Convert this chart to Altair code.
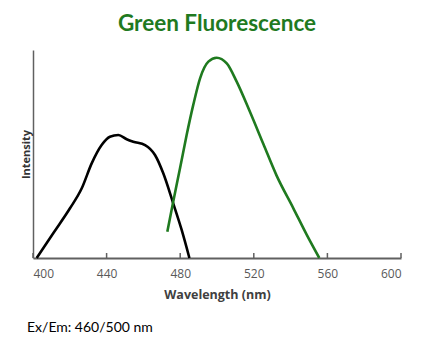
import altair as alt
import pandas as pd

ex_nm = [402, 411, 420.1, 426.5, 431.9, 437.3, 441.8, 446.4, 450.9, 454.5, 460.9, 466.3, 470.8, 476.2, 480.8, 485]
ex_int = [0, 11.9, 23.9, 33.5, 45.5, 54.3, 58.3, 59.1, 57.1, 55.9, 54.3, 49.5, 40.7, 26.3, 13.5, 0]

em_nm = [473, 476.2, 479.9, 483.5, 487.1, 490.8, 495.3, 499.8, 505.3, 510.7, 517.9, 525.2, 532.4, 541.5, 548.8, 555.6]
em_int = [12.6, 27.1, 43.1, 59.1, 73.6, 86.4, 94.4, 96.3, 93.6, 84.8, 70.3, 54.8, 39.6, 23.9, 11.1, 0]

ticks = [400, 440, 480, 520, 560, 600]

df = pd.DataFrame(
    {"nm": ex_nm + em_nm,
     "val": ex_int + em_int,
     "series": ["Excitation"] * len(ex_nm) + ["Emission"] * len(em_nm)}
)
tick_df = pd.DataFrame({"t": ticks})

GREEN = "#1f7a1f"
W, H = 368, 208

xscale = alt.Scale(domain=[400, 600], nice=False)
yscale = alt.Scale(domain=[0, 100], nice=False)

lines = alt.Chart(df).mark_line(strokeWidth=2.6, interpolate="monotone").encode(
    x=alt.X("nm:Q", scale=xscale,
            axis=alt.Axis(values=ticks, title="Wavelength (nm)", grid=False,
                          ticks=False, labelPadding=10, labelFont="Open Sans",
                          labelFontSize=12, labelColor="#595959",
                          domainColor="#606060", domainWidth=2,
                          titleFont="Open Sans", titleFontSize=12.5,
                          titleFontWeight="bold", titleColor="#404040",
                          titlePadding=9)),
    y=alt.Y("val:Q", scale=yscale,
            axis=alt.Axis(labels=False, ticks=False, grid=False,
                          title="Intensity", titleFont="Open Sans",
                          titleFontSize=11, titleFontWeight="bold",
                          titleColor="#333333", titlePadding=2,
                          domainColor="#606060", domainWidth=1.5)),
    color=alt.Color("series:N",
                    scale=alt.Scale(domain=["Excitation", "Emission"],
                                    range=["#000000", GREEN]),
                    legend=None),
    detail="series:N",
)

tick_marks = alt.Chart(tick_df).mark_rule(color="#606060", strokeWidth=1.5).encode(
    x=alt.X("t:Q", scale=xscale),
    y=alt.value(H - 5),
    y2=alt.value(H),
)

footer = alt.Chart(pd.DataFrame({"s": ["Ex/Em: 460/500 nm"]})).mark_text(
    align="left", baseline="middle", font="Lato", fontSize=14, color="#000000"
).encode(text="s:N", x=alt.value(-6), y=alt.value(278))

chart = alt.layer(lines, tick_marks, footer).properties(
    width=W, height=H,
    title=alt.TitleParams("Green Fluorescence", font="Lato", fontSize=22.5,
                          fontWeight="bold", color=GREEN, anchor="middle",
                          offset=15),
    autosize=alt.AutoSizeParams(type="none"),
    padding={"left": 25, "top": 42, "right": 24, "bottom": 90},
).configure_view(stroke=None)

chart.save("out.html", embed_options={"renderer": "svg", "actions": False})
